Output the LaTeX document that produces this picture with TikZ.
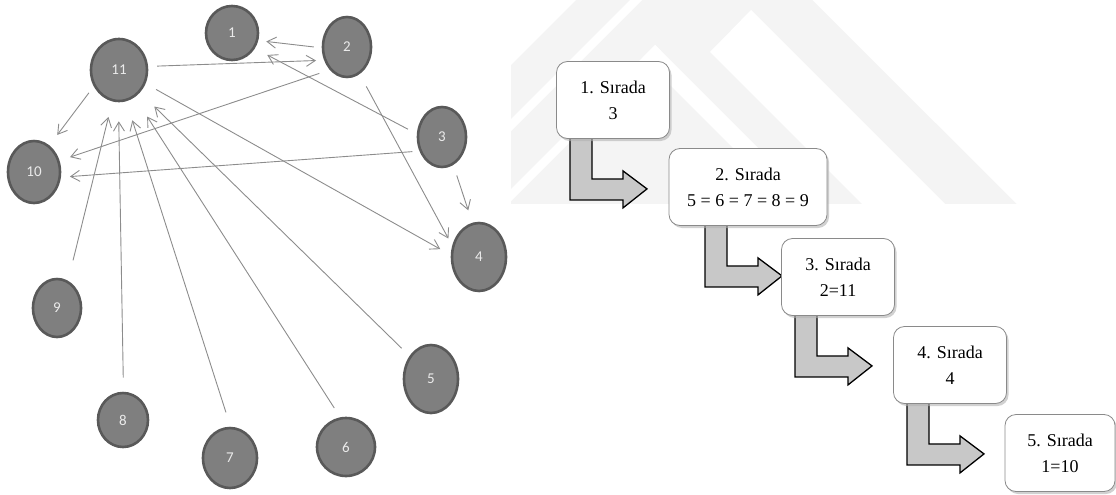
\documentclass[tikz,border=0pt]{standalone}
\usepackage{fontspec}
\setmainfont{Liberation Serif}
\newfontfamily\labelfont{Carlito}
\usetikzlibrary{arrows.meta, shapes.geometric, shadows, calc, backgrounds}

\definecolor{nodegray}{HTML}{7F7F7F}
\definecolor{nodeedge}{HTML}{595959}
\definecolor{linkgray}{HTML}{8C8C8C}
\definecolor{arrowfill}{HTML}{C8C8C8}
\definecolor{boxedge}{HTML}{8A8A8A}
\definecolor{markgray}{HTML}{F4F4F4}

\begin{document}
\begin{tikzpicture}[x=1pt, y=-1pt,
  kisi/.style={ellipse, fill=nodegray, draw=nodeedge, line width=2.6pt, inner sep=0pt,
    text=white!92!black, font=\labelfont\fontsize{15}{17}\selectfont},
  bag/.style={draw=linkgray, line width=0.9pt, -{Straight Barb[length=9pt, width=11pt]}},
  sira/.style={draw=boxedge, line width=0.8pt, fill=white, rounded corners=11pt,
    minimum height=77pt, align=center, font=\fontsize{18}{26}\selectfont,
    drop shadow={shadow xshift=2pt, shadow yshift=-2.5pt, fill=black!30, opacity=0.6}},
  donus/.style={draw=black, line width=1.3pt, fill=arrowfill}]

  \useasboundingbox (0,0) rectangle (1116,495);

  % 1. 左侧: 节点 (编号/x/y/宽/高)
  \foreach \n/\x/\y/\w/\h in {1/232/33/52/54, 2/347/47/48/60, 3/442/137/48/60,
      4/479/257/54/68, 5/431/379/54/68, 6/346/447/58/58, 7/230/458/54/60,
      8/123/420/50/54, 9/57/308/48/58, 10/34/172/52/62, 11/119/70/56/62}
    \node[kisi, minimum width=\w pt, minimum height=\h pt] (n\n) at (\x,\y) {\n};

  % 2. 有向边 (起点/角度/缩短 -> 终点/角度/缩短)
  \foreach \a/\sa/\ka/\b/\sb/\kb in {2/182/8/1/344/8, 11/7/9/2/210/8, 3/173/10/1/326/14,
      2/233/11/10/24/11, 11/213/8/10/60/13, 3/212/7/10/349/9, 3/292/11/4/101/13,
      2/295/14/4/157/8, 11/333/12/4/176/12, 9/68/21/11/258/16, 8/89/14/11/269/19,
      7/89/15/11/283/20, 6/101/11/11/300/23, 5/133/11/11/313/20}
    \draw[bag, shorten <=\ka pt, shorten >=\kb pt] (n\a.\sa) -- (n\b.\sb);

  % 3. 右侧: 排序框
  \node[sira, minimum width=113pt] (b1) at (613,100) {1. Sırada\\3};
  \node[sira, minimum width=158pt] (b2) at (748,187) {2. Sırada\\5 = 6 = 7 = 8 = 9};
  \node[sira, minimum width=113pt] (b3) at (838,277) {3. Sırada\\2=11};
  \node[sira, minimum width=113pt] (b4) at (950,365) {4. Sırada\\4};
  \node[sira, minimum width=110pt] (b5) at (1060,453) {5. Sırada\\1=10};

  % 4. 背景: 水印与折线箭头
  \begin{scope}[on background layer]
    \begin{scope}
      \clip (511,0) rectangle (1116,203);
      \fill[markgray] (694,-118) -- (200,376) -- (1189,376) -- cycle;
      \fill[white] (710,52) -- (751,10) -- (965,224) -- (882,224) -- cycle;
      \fill[white] (655,45) -- (870,260) -- (845,260) -- (642.5,57.5) -- cycle;
      \fill[white] (480,220) -- (655,45) -- (661,51) -- (492,220) -- cycle;
      \fill[white] (400,230) -- (650,-20) -- (662,-20) -- (412,230) -- cycle;
    \end{scope}
    \foreach \b in {b1,b2,b3,b4}
      \draw[donus] ($(\b.south)+(-43,-6)$) -- ++(0,67) -- ++(53,0) -- ++(0,8)
        -- ++(24,-19) -- ++(-24,-18) -- ++(0,8) -- ++(-31,0) -- ++(0,-46) -- cycle;
  \end{scope}

\end{tikzpicture}
\end{document}
